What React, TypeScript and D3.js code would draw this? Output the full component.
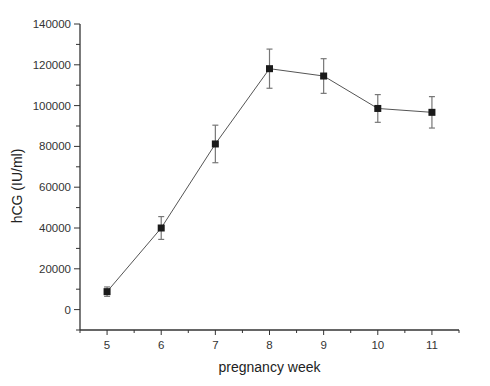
import * as d3 from 'd3'

// hCG by week of pregnancy
const weeks = [5, 6, 7, 8, 9, 10, 11]
const hcgMean = [8800, 40000, 81200, 118100, 114500, 98600, 96700]
const hcgErr = [2300, 5600, 9200, 9600, 8500, 6800, 7700]
const yTicks = [0, 20000, 40000, 60000, 80000, 100000, 120000, 140000]
const xTicks = [5, 6, 7, 8, 9, 10, 11]

const W = 490
const H = 386
const margin = { top: 24, right: 31, bottom: 56, left: 80 }
const font = 'Liberation Sans, Arial, sans-serif'

export default function App() {
  const innerW = W - margin.left - margin.right
  const innerH = H - margin.top - margin.bottom

  const x = d3.scaleLinear().domain([4.5, 11.5]).range([0, innerW])
  const y = d3.scaleLinear().domain([-10000, 140000]).range([innerH, 0])

  const points = weeks.map((w, i) => ({ w, v: hcgMean[i], e: hcgErr[i] }))
  const line = d3.line<{ w: number; v: number }>()
    .x(d => x(d.w))
    .y(d => y(d.v))

  const yMinor = d3.range(-10000, 140001, 10000).filter(v => !yTicks.includes(v))
  const xMinor = d3.range(4.5, 11.51, 1)

  return (
    <svg width={W} height={H} style={{ position: 'absolute', left: 0, top: 0, background: '#fff' }}>
      <g transform={`translate(${margin.left},${margin.top})`}>
        {/* axes */}
        <line x1={0} x2={0} y1={0} y2={innerH} stroke="#333" strokeWidth={1.3} />
        <line x1={0} x2={innerW} y1={innerH} y2={innerH} stroke="#333" strokeWidth={1.3} />

        {yTicks.map(t => (
          <g key={`y${t}`} transform={`translate(0,${y(t)})`}>
            <line x1={-6} x2={0} stroke="#333" strokeWidth={1} />
            <text x={-9} dy="0.35em" textAnchor="end" fontSize={11.5} fontFamily={font} fill="#333">{t}</text>
          </g>
        ))}
        {yMinor.map(t => (
          <line key={`ym${t}`} x1={-4} x2={0} y1={y(t)} y2={y(t)} stroke="#333" strokeWidth={1} />
        ))}

        {xTicks.map(t => (
          <g key={`x${t}`} transform={`translate(${x(t)},${innerH})`}>
            <line y1={0} y2={5} stroke="#333" strokeWidth={1} />
            <text y={19} textAnchor="middle" fontSize={11.5} fontFamily={font} fill="#333">{t}</text>
          </g>
        ))}
        {xMinor.map(t => (
          <line key={`xm${t}`} x1={x(t)} x2={x(t)} y1={innerH} y2={innerH + 3} stroke="#333" strokeWidth={1} />
        ))}

        {/* connecting line */}
        <path d={line(points) ?? ''} fill="none" stroke="#555" strokeWidth={1} />

        {/* error bars */}
        {points.map(p => (
          <g key={`e${p.w}`} stroke="#777" strokeWidth={1.2}>
            <line x1={x(p.w)} x2={x(p.w)} y1={y(p.v + p.e)} y2={y(p.v - p.e)} />
            <line x1={x(p.w) - 3} x2={x(p.w) + 3} y1={y(p.v + p.e)} y2={y(p.v + p.e)} />
            <line x1={x(p.w) - 3} x2={x(p.w) + 3} y1={y(p.v - p.e)} y2={y(p.v - p.e)} />
          </g>
        ))}

        {/* markers */}
        {points.map(p => (
          <rect key={`m${p.w}`} x={x(p.w) - 3.5} y={y(p.v) - 3.5} width={7} height={7} fill="#1a1a1a" />
        ))}

        {/* titles */}
        <text x={innerW / 2} y={innerH + 42} textAnchor="middle" fontSize={14} fontFamily={font} fill="#222">pregnancy week</text>
        <text transform={`translate(${-58},${innerH / 2 + 9}) rotate(-90)`} textAnchor="middle" fontSize={14} fontFamily={font} fill="#222">hCG (IU/ml)</text>
      </g>
    </svg>
  )
}
